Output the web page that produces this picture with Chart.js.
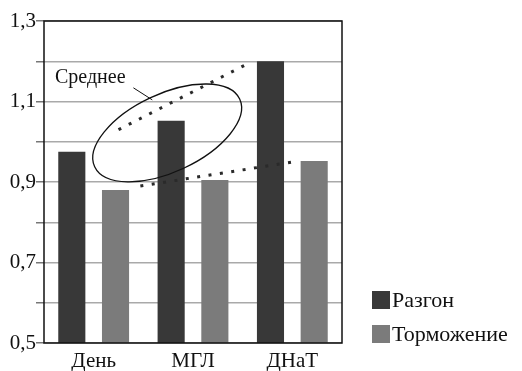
<!DOCTYPE html>
<html>
<head>
<meta charset="utf-8">
<script src="https://cdn.jsdelivr.net/npm/chart.js@4/dist/chart.umd.min.js"></script>
<style>
  body { margin: 0; background: #fff; }
</style>
</head>
<body>
<canvas id="chart" width="522" height="371"></canvas>
<script>
//categories and series
var categories = ['День', 'МГЛ', 'ДНаТ'];
var razgon = [0.975, 1.052, 1.2];
var tormozhenie = [0.88, 0.905, 0.952];
var yLabels = [0.5, 0.7, 0.9, 1.1, 1.3];

//dotted trend lines, x in category index units
var upperTrend = [{x: 0.25, y: 1.03}, {x: 1.56, y: 1.195}];
var lowerTrend = [{x: 0.47, y: 0.89}, {x: 2.06, y: 0.952}];

//"Среднее" note: label anchor, leader line, ellipse centre
var noteText = 'Среднее';
var noteAnchor = {x: -0.39, y: 1.158};
var noteLeader = [{x: 0.40, y: 1.134}, {x: 0.59, y: 1.104}];
var noteCentre = {x: 0.74, y: 1.022};

const darkColor = '#383838';
const lightColor = '#7b7b7b';
const serif = "'Liberation Serif', 'Times New Roman', serif";

const notePlugin = {
    id: 'note',
    afterDatasetsDraw(chart) {
        const ctx = chart.ctx;
        const xs = chart.scales.x;
        const ys = chart.scales.y;
        const a = chart.chartArea;
        ctx.save();
        // dotted trend lines
        ctx.strokeStyle = '#2a2a2a';
        ctx.lineWidth = 3;
        ctx.setLineDash([3, 8.5]);
        [upperTrend, lowerTrend].forEach(function(line) {
            ctx.beginPath();
            ctx.moveTo(xs.getPixelForValue(line[0].x), ys.getPixelForValue(line[0].y));
            ctx.lineTo(xs.getPixelForValue(line[1].x), ys.getPixelForValue(line[1].y));
            ctx.stroke();
        });
        ctx.setLineDash([]);
        // frame
        ctx.strokeStyle = '#111';
        ctx.lineWidth = 1.5;
        ctx.strokeRect(a.left, a.top, a.right - a.left, a.bottom - a.top);
        // ellipse
        ctx.beginPath();
        ctx.ellipse(xs.getPixelForValue(noteCentre.x), ys.getPixelForValue(noteCentre.y),
            80, 39, -25 * Math.PI / 180, 0, Math.PI * 2);
        ctx.lineWidth = 1.3;
        ctx.stroke();
        // leader
        ctx.beginPath();
        ctx.moveTo(xs.getPixelForValue(noteLeader[0].x), ys.getPixelForValue(noteLeader[0].y));
        ctx.lineTo(xs.getPixelForValue(noteLeader[1].x), ys.getPixelForValue(noteLeader[1].y));
        ctx.lineWidth = 1;
        ctx.stroke();
        // label
        ctx.fillStyle = '#111';
        ctx.font = '20px ' + serif;
        ctx.textAlign = 'left';
        ctx.textBaseline = 'middle';
        ctx.fillText(noteText, xs.getPixelForValue(noteAnchor.x), ys.getPixelForValue(noteAnchor.y));
        ctx.restore();
    },
    afterDraw(chart) {
        // legend at the right
        const ctx = chart.ctx;
        const a = chart.chartArea;
        ctx.save();
        ctx.font = '22px ' + serif;
        ctx.textBaseline = 'middle';
        ctx.textAlign = 'left';
        chart.data.datasets.forEach(function(d, i) {
            const y = a.bottom - 43 + i * 34;
            const x = a.right + 30;
            ctx.fillStyle = d.backgroundColor;
            ctx.fillRect(x, y - 9, 18, 18);
            ctx.fillStyle = '#111';
            ctx.fillText(d.label, x + 20, y + 1);
        });
        ctx.restore();
    }
};

const chart = new Chart(document.getElementById('chart').getContext('2d'), {
    type: 'bar',
    data: {
        labels: categories,
        datasets: [{
            label: 'Разгон',
            data: razgon,
            backgroundColor: darkColor,
            categoryPercentage: 0.88,
            barPercentage: 0.62,
        }, {
            label: 'Торможение',
            data: tormozhenie,
            backgroundColor: lightColor,
            categoryPercentage: 0.88,
            barPercentage: 0.62,
        }]
    },
    options: {
        responsive: false,
        animation: false,
        layout: {
            padding: {top: 21, right: 180, left: 0, bottom: 0}
        },
        plugins: {
            legend: {display: false},
            tooltip: {enabled: false},
        },
        scales: {
            x: {
                grid: {display: false, drawTicks: false},
                border: {display: false},
                ticks: {
                    color: '#111',
                    padding: 6,
                    font: {family: serif, size: 21},
                },
                afterFit: function(scale) { scale.height = 28; }
            },
            y: {
                min: 0.5,
                max: 1.3,
                border: {display: false},
                grid: {
                    color: '#a9a9a9',
                    lineWidth: 1.5,
                    tickLength: 8,
                    tickColor: '#777',
                },
                ticks: {
                    stepSize: 0.1,
                    padding: 0,
                    color: '#111',
                    font: {family: serif, size: 21},
                    callback: function(value) {
                        var v = Math.round(value * 10) / 10;
                        return yLabels.indexOf(v) >= 0 ? v.toFixed(1).replace('.', ',') : '';
                    }
                },
                afterFit: function(scale) { scale.width = 44; }
            }
        }
    },
    plugins: [notePlugin]
});
</script>
</body>
</html>
